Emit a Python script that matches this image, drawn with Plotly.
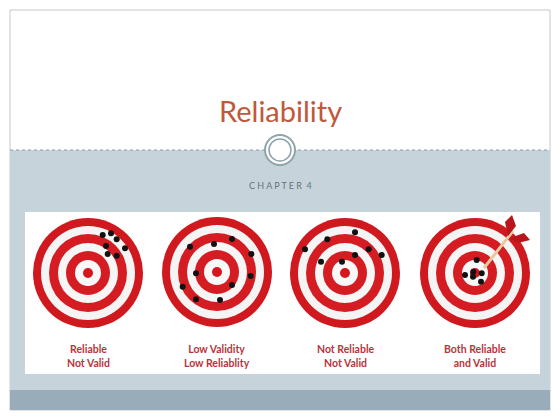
import plotly.graph_objects as go

# target centres (slide pixels) and labels
target_x = [88, 217, 345, 475]
target_y = [273, 272, 273, 273]
labels = ['Reliable<br>Not Valid', 'Low Validity<br>Low Reliablity',
          'Not Reliable<br>Not Valid', 'Both Reliable<br>and Valid']

# shot holes
shots_x = [102.7, 111, 116.7, 106, 125, 107.7, 116.7,
           190, 214, 232, 251.3, 196, 250.7, 182.7, 232, 196, 220,
           305, 327.3, 355, 368.7, 381.7, 355, 342, 321,
           476.7, 465, 473.3, 481.7, 481, 473]
shots_y = [235, 233.3, 239.3, 246, 248.3, 254, 255.7,
           246.7, 244, 239, 254, 273.3, 276, 286.7, 285, 299.3, 300,
           249.3, 239.3, 232.3, 249.3, 255, 255, 261.7, 261.7,
           260, 275, 271.7, 273.3, 281.7, 276.7]

ring_r = [55, 47, 39, 30, 22, 13, 5]
ring_col = ['#d0191e', '#f4f4f4', '#d41c22', '#f6f6f6', '#d41c22', '#f8f8f8', '#d8141c']

fig = go.Figure()
shapes = []
# slide parts
shapes.append(dict(type='rect', x0=10, y0=10, x1=550, y1=410, fillcolor='white',
                   line=dict(color='#c8c8c8', width=1)))
shapes.append(dict(type='rect', x0=10, y0=150, x1=550, y1=390, fillcolor='#c7d3da',
                   line=dict(width=0)))
shapes.append(dict(type='rect', x0=10, y0=390, x1=550, y1=410, fillcolor='#98adb9',
                   line=dict(width=0)))
shapes.append(dict(type='line', x0=10, y0=150, x1=550, y1=150,
                   line=dict(color='#8a9aa5', width=1, dash='dot')))
shapes.append(dict(type='circle', x0=265, y0=135, x1=295, y1=165, fillcolor='white',
                   line=dict(color='#8fa3ae', width=2)))
shapes.append(dict(type='circle', x0=269, y0=139, x1=291, y1=161, fillcolor='white',
                   line=dict(color='#8fa3ae', width=1.5)))
shapes.append(dict(type='rect', x0=25, y0=212, x1=540, y1=374, fillcolor='white',
                   line=dict(width=0)))
for cx, cy in zip(target_x, target_y):
    for r, c in zip(ring_r, ring_col):
        shapes.append(dict(type='circle', x0=cx - r, y0=cy - r, x1=cx + r, y1=cy + r,
                           fillcolor=c, line=dict(width=0)))
# arrow in the last target
shapes.append(dict(type='line', x0=484, y0=268, x1=513, y1=231,
                   line=dict(color='#e8c9a0', width=3)))
shapes.append(dict(type='path', path='M 508 236 L 505 222 L 512 215 L 516 226 Z',
                   fillcolor='#b8161c', line=dict(width=0)))
shapes.append(dict(type='path', path='M 510 238 L 524 233 L 530 240 L 518 243 Z',
                   fillcolor='#b8161c', line=dict(width=0)))
for s in shapes:
    s['layer'] = 'below'
fig.update_layout(shapes=shapes)

fig.add_trace(go.Scatter(x=shots_x, y=shots_y, mode='markers',
                         marker=dict(color='#111111', size=6), hoverinfo='skip'))

annotations = [
    dict(x=280, y=110, text='Reliability', showarrow=False,
         font=dict(family='Lato', size=29, color='#c0583a')),
    dict(x=280, y=185, text='C H A P T E R  4', showarrow=False,
         font=dict(family='Lato', size=9, color='#5f7380')),
]
for cx, lab in zip(target_x, labels):
    annotations.append(dict(x=cx, y=356, text='<b>' + lab + '</b>', showarrow=False,
                            font=dict(family='Lato', size=10.5, color='#b8343a')))
fig.update_layout(annotations=annotations)

# the page puts the figure 8px in from the corner, so map those pixels 1:1
fig.update_layout(
    width=552, height=412, margin=dict(l=0, r=0, t=0, b=0),
    paper_bgcolor='white', plot_bgcolor='white', showlegend=False,
    xaxis=dict(range=[8, 560], visible=False, fixedrange=True),
    yaxis=dict(range=[420, 8], visible=False, fixedrange=True),
)

fig.write_html('out.html')
